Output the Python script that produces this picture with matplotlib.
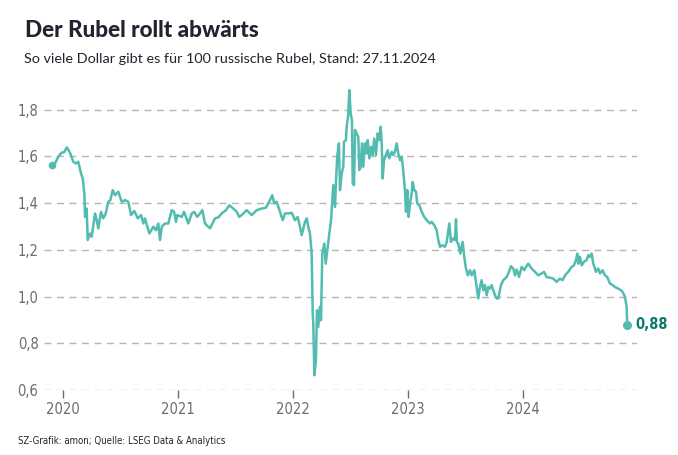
import matplotlib.pyplot as plt
from matplotlib import font_manager

# Rubel in Dollar (fuer 100 Rubel), x als Dezimaljahr
jahr = [
    2019.904, 2019.928, 2019.957, 2019.986, 2020.009, 2020.030, 2020.058, 2020.087, 2020.108, 2020.130,
    2020.154, 2020.169, 2020.183, 2020.189, 2020.203, 2020.212, 2020.232, 2020.247, 2020.276, 2020.290,
    2020.304, 2020.328, 2020.348, 2020.369, 2020.391, 2020.409, 2020.430, 2020.450, 2020.478, 2020.508,
    2020.537, 2020.565, 2020.589, 2020.617, 2020.647, 2020.676, 2020.696, 2020.710, 2020.748, 2020.783,
    2020.806, 2020.826, 2020.841, 2020.856, 2020.884, 2020.913, 2020.943, 2020.963, 2020.980, 2020.991,
    2021.030, 2021.050, 2021.087, 2021.117, 2021.137, 2021.165, 2021.189, 2021.209, 2021.232, 2021.276,
    2021.304, 2021.319, 2021.348, 2021.377, 2021.415, 2021.443, 2021.478, 2021.508, 2021.530, 2021.551,
    2021.595, 2021.638, 2021.682, 2021.725, 2021.760, 2021.783, 2021.817, 2021.835, 2021.856, 2021.884,
    2021.908, 2021.928, 2021.957, 2021.986, 2022.015, 2022.038, 2022.058, 2022.073, 2022.102, 2022.117,
    2022.130, 2022.145, 2022.160, 2022.169, 2022.174, 2022.183, 2022.197, 2022.206, 2022.217, 2022.232,
    2022.241, 2022.252, 2022.270, 2022.282, 2022.299, 2022.310, 2022.328, 2022.348, 2022.363, 2022.371,
    2022.383, 2022.397, 2022.406, 2022.421, 2022.435, 2022.441, 2022.458, 2022.464, 2022.478, 2022.487,
    2022.499, 2022.510, 2022.517, 2022.528, 2022.537, 2022.551, 2022.565, 2022.574, 2022.586, 2022.597,
    2022.609, 2022.623, 2022.638, 2022.647, 2022.661, 2022.676, 2022.690, 2022.704, 2022.719, 2022.734,
    2022.748, 2022.760, 2022.769, 2022.777, 2022.789, 2022.806, 2022.821, 2022.835, 2022.856, 2022.870,
    2022.884, 2022.899, 2022.913, 2022.928, 2022.943, 2022.957, 2022.971, 2022.980, 2022.991, 2023.003,
    2023.015, 2023.030, 2023.038, 2023.052, 2023.067, 2023.078, 2023.096, 2023.117, 2023.139, 2023.160,
    2023.189, 2023.203, 2023.226, 2023.247, 2023.261, 2023.276, 2023.296, 2023.319, 2023.334, 2023.348,
    2023.357, 2023.371, 2023.391, 2023.406, 2023.415, 2023.423, 2023.435, 2023.452, 2023.473, 2023.487,
    2023.499, 2023.517, 2023.537, 2023.551, 2023.574, 2023.595, 2023.609, 2023.623, 2023.638, 2023.652,
    2023.667, 2023.682, 2023.696, 2023.710, 2023.725, 2023.739, 2023.754, 2023.769, 2023.783, 2023.806,
    2023.826, 2023.856, 2023.870, 2023.893, 2023.913, 2023.928, 2023.943, 2023.963, 2023.986, 2024.009,
    2024.015, 2024.043, 2024.073, 2024.102, 2024.130, 2024.160, 2024.180, 2024.203, 2024.232, 2024.261,
    2024.290, 2024.319, 2024.343, 2024.363, 2024.391, 2024.421, 2024.441, 2024.458, 2024.470, 2024.478,
    2024.493, 2024.508, 2024.528, 2024.551, 2024.565, 2024.580, 2024.595, 2024.609, 2024.632, 2024.652,
    2024.667, 2024.690, 2024.710, 2024.730, 2024.754, 2024.777, 2024.797, 2024.826, 2024.850, 2024.864,
    2024.884, 2024.899, 2024.904,
]
kurs = [
    1.563, 1.570, 1.600, 1.616, 1.619, 1.639, 1.616, 1.577, 1.570, 1.577,
    1.527, 1.506, 1.440, 1.341, 1.377, 1.242, 1.270, 1.256, 1.356, 1.327,
    1.292, 1.363, 1.335, 1.356, 1.406, 1.413, 1.456, 1.434, 1.449, 1.406,
    1.413, 1.406, 1.349, 1.367, 1.335, 1.349, 1.313, 1.335, 1.270, 1.299,
    1.284, 1.313, 1.242, 1.299, 1.313, 1.313, 1.370, 1.363, 1.320, 1.349,
    1.341, 1.363, 1.313, 1.356, 1.363, 1.341, 1.356, 1.370, 1.313, 1.292,
    1.320, 1.335, 1.339, 1.356, 1.370, 1.391, 1.377, 1.363, 1.341, 1.349,
    1.370, 1.349, 1.370, 1.377, 1.380, 1.399, 1.434, 1.399, 1.406, 1.363,
    1.327, 1.356, 1.356, 1.359, 1.327, 1.341, 1.299, 1.263, 1.320, 1.335,
    1.299, 1.270, 1.184, 0.927, 0.884, 0.663, 0.727, 0.941, 0.870, 0.956,
    0.899, 1.184, 1.227, 1.141, 1.213, 1.256, 1.327, 1.477, 1.384, 1.491,
    1.606, 1.656, 1.456, 1.527, 1.556, 1.663, 1.670, 1.727, 1.777, 1.884,
    1.784, 1.756, 1.484, 1.477, 1.713, 1.699, 1.684, 1.542, 1.556, 1.656,
    1.556, 1.656, 1.613, 1.670, 1.592, 1.641, 1.606, 1.677, 1.606, 1.699,
    1.670, 1.727, 1.656, 1.506, 1.584, 1.606, 1.627, 1.592, 1.620, 1.606,
    1.620, 1.656, 1.613, 1.584, 1.599, 1.534, 1.456, 1.363, 1.456, 1.341,
    1.399, 1.442, 1.491, 1.456, 1.449, 1.399, 1.391, 1.363, 1.341, 1.327,
    1.313, 1.320, 1.306, 1.284, 1.242, 1.213, 1.220, 1.213, 1.234, 1.284,
    1.313, 1.234, 1.249, 1.242, 1.331, 1.234, 1.227, 1.184, 1.234, 1.170,
    1.127, 1.091, 1.113, 1.091, 1.113, 1.041, 0.992, 1.041, 1.070, 1.027,
    1.049, 1.006, 1.041, 1.034, 1.049, 1.027, 1.006, 0.992, 0.992, 1.049,
    1.070, 1.084, 1.099, 1.130, 1.120, 1.091, 1.116, 1.084, 1.127, 1.113,
    1.120, 1.141, 1.120, 1.106, 1.091, 1.099, 1.106, 1.084, 1.081, 1.077,
    1.063, 1.077, 1.070, 1.091, 1.106, 1.127, 1.134, 1.156, 1.184, 1.141,
    1.170, 1.134, 1.149, 1.156, 1.177, 1.170, 1.184, 1.141, 1.106, 1.120,
    1.099, 1.113, 1.091, 1.084, 1.056, 1.049, 1.041, 1.034, 1.027, 1.020,
    0.999, 0.956, 0.880,
]
y_ticks = [0.6, 0.8, 1.0, 1.2, 1.4, 1.6, 1.8]
y_labels = ["0,6", "0,8", "1,0", "1,2", "1,4", "1,6", "1,8"]
x_ticks = [2020, 2021, 2022, 2023, 2024]
x_labels = ["2020", "2021", "2022", "2023", "2024"]
end_label = "0,88"

# schmale Schrift suchen (Narrow / Condensed), sonst Roboto
schmal = "Roboto"
for f in font_manager.fontManager.ttflist:
    if "Narrow" in f.name or "Condensed" in f.name or f.stretch in ("condensed", "semi-condensed"):
        schmal = f.name
        break

linie = "#52bcb0"
grau = "#6b6b73"
dunkel = "#23232f"

fig = plt.figure(figsize=(6.78, 4.55), dpi=100)
ax = fig.add_axes([0.0649, 0.1429, 0.8746, 0.6672])

ax.plot(jahr, kurs, color=linie, lw=1.8, solid_joinstyle="round")
ax.plot(jahr[-1], kurs[-1], "o", color=linie, ms=5.5)
ax.plot(jahr[0], kurs[0], "o", color=linie, ms=4.5)
ax.text(jahr[-1] + 0.07, kurs[-1], end_label, color="#0b7a6f", fontsize=10.5,
        fontweight="bold", family=schmal, fontstretch="condensed", va="center", ha="left")

ax.set_xlim(2019.832, 2024.989)
ax.set_ylim(0.6, 1.9)

ax.set_yticks(y_ticks)
ax.set_yticklabels(y_labels)
ax.set_xticks(x_ticks)
ax.set_xticklabels(x_labels)
ax.yaxis.grid(True, color="#b5b5b5", linestyle=(0, (5, 4)), lw=1)
ax.set_axisbelow(True)
for s in ax.spines.values():
    s.set_visible(False)
ax.tick_params(axis="y", length=0, pad=4, labelsize=10.5, labelcolor=grau)
ax.tick_params(axis="x", length=6, width=1, color=grau, pad=3, labelsize=10.5, labelcolor=grau)
for t in ax.get_xticklabels() + ax.get_yticklabels():
    t.set_family(schmal)
    t.set_fontstretch("condensed")

fig.text(0.037, 0.918, "Der Rubel rollt abwärts", fontsize=16.2, fontweight="black",
         color=dunkel, family="Lato")
fig.text(0.036, 0.862, "So viele Dollar gibt es für 100 russische Rubel, Stand: 27.11.2024",
         fontsize=10.4, color=dunkel, family="Lato")
fig.text(0.027, 0.024, "SZ-Grafik: amon; Quelle: LSEG Data & Analytics",
         fontsize=6.9, color=dunkel, family=schmal, fontstretch="condensed")

fig.savefig("out.png", dpi=100)
